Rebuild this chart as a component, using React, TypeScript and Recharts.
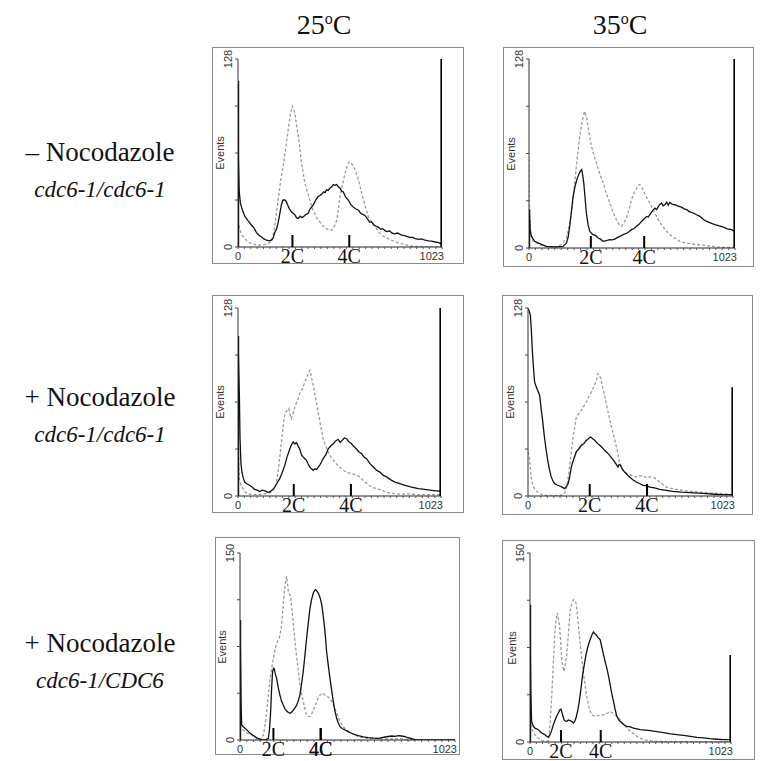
import React from 'react';
import { LineChart, Line, XAxis, YAxis } from 'recharts';

type Pt = [number, number];

const COLUMN_TEMPS = ['25', '35'];
const ROW_TREATMENTS = ['– Nocodazole', '+ Nocodazole', '+ Nocodazole'];
const ROW_STRAINS = ['cdc6-1/cdc6-1', 'cdc6-1/cdc6-1', 'cdc6-1/CDC6'];
const DNA_LABELS = ['2C', '4C'];
const MAX_CHANNEL = 1023;

// y-axis top per panel (events)
const Y_MAX = [128, 128, 128, 128, 150, 150];
// channel of the 2C and 4C marks per panel
const DNA_MARKS = [
  [273, 558],
  [307, 572],
  [281, 569],
  [308, 594],
  [159, 384],
  [158, 360],
];
// height of the off-scale spikes at channel 0 and channel 1023 (0 = none)
const EDGE_SPIKES = [
  [113, 128],
  [26, 128],
  [109, 128],
  [0, 74],
  [96, 0],
  [109, 69],
];

// solid = black trace, dashed = grey trace; [channel, events]
const P1_SOLID: Pt[] = [[0,113],[2,60],[6,38],[12,30],[20,26],[34,21],[50,18],[67,15],[80,13],[92,10],[105,8],[117,7],[130,5.5],[143,4.6],[159,4.2],[170,5],[176,6],[185,10],[193,12],[202,17],[210,23],[218,29],[226,32],[235,32],[242,31],[248,29],[258,26],[268,24],[276,23],[285,22],[293,20],[302,19.5],[312,21],[320,20],[327,20.5],[338,22],[352,23],[362,26],[377,28.5],[390,32],[400,34],[411,35],[420,36],[430,37.5],[436,37],[445,39],[452,38.5],[461,40],[470,41],[478,42.5],[486,42],[495,42.5],[503,41],[512,40],[520,38],[528,37.5],[540,34],[553,32],[565,29],[579,27],[590,26],[604,25],[615,23],[628,22],[637,21.5],[650,19],[660,17],[671,17],[682,15],[693,14],[704,13.5],[715,12],[726,12.5],[738,11],[750,10.5],[760,11],[771,9.6],[785,9],[800,9.5],[822,8],[840,7.5],[860,6.5],[875,6.5],[889,5.7],[905,5.2],[920,5.5],[939,4.6],[955,4.2],[970,4],[990,3.4],[1006,3],[1016,2.3],[1020,3]];
const P1_DASHED: Pt[] = [[0,18],[8,12],[20,8],[34,5.7],[50,3.5],[67,2.3],[101,1.1],[134,1.8],[160,3],[168,4.6],[176,8],[184,13.7],[192,22],[201,32],[213,44],[226,55],[240,68],[252,80],[262,90],[272,96],[279,94],[285,91],[295,82],[305,73],[318,58],[332,46],[342,40],[352,36],[364,30],[377,25],[394,20],[411,17],[428,14],[444,12.5],[458,11.5],[470,11.4],[482,14],[495,18],[503,25],[511,34],[522,41],[533,48],[545,54],[557,58],[568,57],[579,55],[591,51],[604,46],[616,39],[629,32],[642,26],[654,20.5],[671,17],[688,13.7],[704,10.5],[721,8],[745,6],[771,4.6],[796,3.2],[822,2.3],[850,1.2],[872,0.5],[950,0.2],[1023,0]];

const P2_SOLID: Pt[] = [[0,26],[3,20],[6,12],[12,8],[28,4.5],[53,3],[86,1.1],[136,0.7],[169,1.1],[186,3.4],[194,7],[202,14.7],[210,24],[219,35],[229,42],[239,47],[248,50],[255,52],[262,53],[267,49],[272,44],[279,33],[285,23.7],[293,16],[302,11.3],[310,10],[318,9],[330,8.5],[343,6.8],[355,6],[368,4.5],[384,5],[401,5.6],[413,5.5],[426,6],[438,7],[451,7.9],[468,9],[484,10],[496,11],[509,12.4],[520,13],[534,14.7],[546,16],[559,18],[570,19.5],[584,21.4],[592,21],[600,22.6],[612,25],[625,27],[634,26],[642,28],[650,29.5],[658,30.5],[666,28.5],[675,29.3],[684,31],[692,29],[700,31],[712,29.5],[725,29.3],[737,28.5],[749,28],[760,27.5],[770,26.5],[783,26],[798,24.5],[816,23.7],[832,22.5],[849,21.4],[865,19.5],[882,18],[900,17],[923,15.8],[945,15],[965,14.2],[985,13],[1006,12.4],[1020,11.3]];
const P2_DASHED: Pt[] = [[0,60],[2,30],[8,10],[20,4.5],[53,2.3],[86,0.7],[136,0.7],[161,2.3],[186,6.8],[198,14],[211,23.7],[222,37],[232,51],[242,64],[252,75.6],[262,84],[269,89],[277,92.5],[283,90],[288,87],[298,78],[310,69],[322,63],[335,57.5],[352,50],[368,44],[384,37],[401,30.5],[418,24],[434,19.2],[447,16],[459,14.7],[471,17],[484,20.3],[496,26],[509,32.7],[521,37],[534,40.6],[542,42.5],[550,42.9],[560,41],[570,38.4],[585,34],[600,30.5],[612,27],[625,23.7],[641,19.5],[658,15.8],[679,12],[700,9],[725,6.5],[749,4.5],[775,3.5],[799,2.9],[840,2.2],[882,1.6],[930,0.8],[965,0.4],[1023,0.4]];

const P3_SOLID: Pt[] = [[0,109],[3,90],[7,68],[10,40],[15,22],[20,16],[27,12],[34,9.5],[47,8],[59,7.3],[72,6],[84,4.5],[97,4],[109,3],[122,4],[135,3.5],[148,2.6],[160,2.7],[172,4],[185,6],[198,9],[210,11.8],[223,16],[236,21],[248,27],[261,32],[270,35],[278,36.8],[286,35.5],[295,36.3],[303,34],[311,32],[320,28],[328,26.6],[336,25.5],[345,24.3],[353,22],[362,19.7],[370,18.5],[379,17.5],[387,18.5],[396,18],[404,19.5],[412,21],[420,23],[429,25.4],[442,28],[454,32],[467,34],[480,35.6],[492,37.5],[505,38.6],[515,36.5],[525,37.9],[536,39.5],[547,39],[558,37],[572,35.6],[585,33.5],[597,32],[610,30],[623,28.8],[635,26.5],[648,25.4],[665,22],[682,19.7],[698,17.5],[715,16.3],[732,14],[749,13],[770,11],[791,9.5],[815,8.5],[842,7.3],[875,6],[909,5],[940,4.5],[976,3.9],[1000,3.5],[1016,3.2],[1020,4]];
const P3_DASHED: Pt[] = [[0,50],[3,25],[7,11.8],[15,7],[25,5],[37,2.5],[50,1.6],[75,0.9],[101,0.9],[126,1.5],[151,1.6],[168,2.8],[185,5],[194,10],[202,16.3],[210,26],[219,36.8],[227,47],[236,56],[246,58],[256,59.5],[262,56],[269,52.7],[279,57],[289,61.7],[300,65],[311,69.7],[324,73],[337,77.6],[350,82],[362,85.6],[370,81],[379,75.4],[391,67],[404,57.2],[416,48],[429,39],[442,34],[454,30],[471,26],[488,23],[509,20],[530,17.5],[551,16],[572,15.2],[589,14.5],[606,13.6],[623,11.5],[640,9.5],[656,7.8],[673,6.1],[698,5],[724,3.9],[749,2.5],[774,1.8],[816,1.3],[858,1.4],[900,1],[942,0.9],[1023,0.9]];

const P4_SOLID: Pt[] = [[0,127.6],[6,126],[12,123],[17,112],[22,98],[27,88],[33,77.6],[39,75],[45,73],[51,71],[58,68.6],[65,60],[72,52.7],[78,45],[83,39],[91,31],[100,23],[108,17.5],[116,13],[125,10],[133,8.4],[145,7.5],[158,6.8],[170,6],[183,5],[192,6.5],[200,8.4],[208,13],[216,19.7],[228,25],[241,30],[253,32],[266,34.5],[278,35.5],[291,37.9],[298,38.5],[305,39.5],[313,40.2],[323,39],[333,37.9],[345,36],[358,34.5],[370,33],[382,31.1],[395,29.5],[407,27.7],[417,26],[427,24.3],[438,22],[449,19.7],[455,21.5],[461,20.9],[472,18],[482,16.3],[495,14.5],[507,13],[523,11],[540,9.5],[557,8.5],[574,7.3],[590,7],[607,6.1],[632,5.5],[657,4.5],[690,3.8],[723,3.2],[765,2.6],[807,2.3],[850,1.9],[890,1.6],[930,1.2],[973,0.9],[1013,0.9],[1020,1]];
const P4_DASHED: Pt[] = [[0,30],[8,25],[12,18],[17,11.8],[25,7],[33,5],[45,3],[58,1.6],[83,0.5],[108,0.2],[141,0.3],[175,0.7],[187,3],[195,7.3],[205,17],[216,30],[228,43],[241,53.8],[253,56],[266,58.3],[278,61],[291,64],[303,67.5],[316,70.8],[327,74],[338,77.6],[343,80],[349,83.3],[356,82],[363,80],[372,74],[382,68.6],[395,60],[407,52.7],[420,45],[432,39],[445,31],[457,23],[470,19],[482,16.3],[495,15],[507,14.5],[523,13.5],[540,13],[557,13.8],[574,13.6],[590,12.5],[607,13],[620,12.8],[632,12.3],[645,11],[657,9.5],[673,7.8],[690,6.1],[715,5.2],[740,4.5],[773,3.8],[807,3.2],[850,2.7],[890,2.3],[930,2],[973,1.6],[1014,0.9],[1023,0.5]];

const P5_SOLID: Pt[] = [[0,96],[3,60],[5,30],[8,12],[16,10.5],[24,9.4],[36,7.5],[48,5.4],[60,4],[71,2.7],[87,1],[103,0.3],[119,0],[135,1.3],[140,8],[146,22.8],[150,40],[155,55],[160,57.5],[163,57],[168,53],[174,49.6],[182,42],[190,36],[198,31],[206,28],[214,25],[222,23.3],[230,22],[238,21.4],[246,22.5],[254,24],[262,26],[270,28],[278,32],[285,36],[293,45],[301,55],[309,68],[317,81.7],[325,94],[333,105.8],[341,113],[349,117.9],[355,120],[360,120.6],[368,119],[376,116.5],[383,113],[389,108.5],[395,101],[401,92.4],[407,82],[412,71],[420,60],[428,49.6],[436,40],[444,30.8],[452,23],[460,17.4],[468,13.5],[476,10.7],[488,9],[500,8],[516,6.5],[531,5.4],[547,4.3],[563,3.5],[587,2.5],[611,1.9],[635,1.5],[658,1.3],[675,1.9],[690,2.4],[706,2.8],[722,3.2],[738,2.9],[753,3.5],[769,3.2],[785,2.7],[800,1.8],[809,1.5],[833,0.3],[880,0],[1023,0]];
const P5_DASHED: Pt[] = [[0,12],[5,9.4],[15,8],[24,6.7],[40,5],[56,4],[79,1.3],[95,0],[111,4],[119,12],[127,22.8],[135,36],[143,49.6],[151,58],[159,65.6],[166,72],[174,77.7],[181,80],[187,81.7],[192,86],[198,92.4],[204,105],[209,116.5],[215,125],[222,131.3],[226,126],[230,119],[236,117],[241,115.2],[248,104],[254,92.4],[262,79],[270,65.6],[278,55],[285,44.2],[293,37],[301,30.8],[309,25],[317,20],[325,18.9],[333,18.8],[341,21],[349,24],[357,27],[365,30.8],[373,34],[381,36.2],[389,37],[397,37.5],[404,36],[412,34.8],[420,34.5],[428,33.5],[436,31],[444,28],[452,25],[460,21.4],[468,18],[476,14.7],[484,12.5],[492,10.7],[500,9],[508,8],[520,6.5],[531,5.4],[547,4],[563,2.7],[590,1.8],[611,1.3],[635,1.5],[658,1.3],[690,0.8],[722,0.8],[760,1.2],[785,0.5],[833,0],[1023,0]];

const P6_SOLID: Pt[] = [[0,109],[2,70],[4,40],[8,16.4],[16,13],[25,11],[34,10.5],[42,9.8],[50,8.5],[59,7.1],[68,6.5],[76,5.8],[85,4.5],[93,3.7],[102,5.8],[110,9],[119,13.8],[127,17],[136,20.4],[144,23],[153,25.7],[158,26],[161,24.3],[167,21],[173,17.7],[180,16.5],[187,16.4],[195,17.5],[204,17],[212,16.5],[221,15.1],[228,16.5],[234,19],[243,25],[251,32.3],[259,42],[268,53.4],[276,61],[285,69.3],[295,76],[306,81.2],[314,84.5],[323,87.3],[330,86],[336,85.2],[346,83],[357,81.2],[366,75],[374,69.3],[382,64],[391,58.7],[400,52],[408,45.5],[416,38.5],[425,32.3],[433,26],[442,20.4],[454,17],[467,15.1],[480,13.5],[493,12.4],[510,12],[527,11.1],[544,10.5],[561,9.8],[586,9.4],[612,9],[637,8.5],[663,7.9],[688,7.2],[714,6.4],[748,5.8],[782,5.3],[816,4.5],[850,3.7],[883,3.2],[917,2.6],[951,2.2],[985,1.9],[1020,1.9]];
const P6_DASHED: Pt[] = [[0,30],[3,13.8],[14,9],[25,5.8],[38,3.5],[51,1.9],[68,0.8],[85,0.5],[95,1],[102,13.8],[109,32],[116,53.4],[121,70],[127,87.8],[133,97],[139,102.4],[145,97],[150,93],[156,80],[161,66.7],[167,60],[173,56],[180,62],[187,69.3],[195,85],[204,103.7],[212,109],[221,113],[228,112],[234,110.3],[240,103],[246,93],[254,80],[263,66.7],[271,56],[280,45.5],[288,37],[297,29.6],[305,25],[314,21.7],[323,20.8],[331,20.4],[344,21],[357,21.2],[370,21.5],[382,22.2],[395,23],[408,24.3],[420,23],[433,21.7],[446,19.5],[459,17.7],[471,15],[484,12.4],[497,10.5],[510,8.5],[527,6.5],[544,4.5],[561,3],[578,1.9],[612,1],[646,0.5],[700,0.3],[800,0.3],[1023,0.3]];

const SOLID = [P1_SOLID, P2_SOLID, P3_SOLID, P4_SOLID, P5_SOLID, P6_SOLID];
const DASHED = [P1_DASHED, P2_DASHED, P3_DASHED, P4_DASHED, P5_DASHED, P6_DASHED];

// layout (page px): outer box and plotting area of each histogram
const FRAMES = [
  { x: 212, y: 47, w: 252, h: 217 },
  { x: 503, y: 47, w: 251, h: 220 },
  { x: 212, y: 295, w: 252, h: 218 },
  { x: 502, y: 295, w: 251, h: 220 },
  { x: 215, y: 537, w: 245, h: 218 },
  { x: 502, y: 540, w: 253, h: 220 },
];
const PLOTS = [
  { x: 238, y: 59, w: 204, h: 188 },
  { x: 529, y: 59, w: 206, h: 189 },
  { x: 238, y: 308, w: 203, h: 188 },
  { x: 528, y: 308, w: 205, h: 188 },
  { x: 240, y: 553, w: 215, h: 187 },
  { x: 530, y: 553, w: 201, h: 189 },
];

const SANS = '"Liberation Sans", Arial, sans-serif';
const SERIF = '"Liberation Serif", "Times New Roman", serif';
const EXTRA = 10; // room below the frame so the 2C/4C labels are not clipped

const toRows = (pts: Pt[]) => pts.map(([ch, n]) => ({ ch, n }));

const XTick = (props: any) => {
  const { x, y, payload, marks } = props;
  const v = payload.value;
  const mi = marks.indexOf(v);
  if (mi >= 0) {
    return (
      <g>
        <line x1={x} x2={x} y1={y - 12} y2={y} stroke="#000" strokeWidth={2} />
        <text x={x} y={y + 16} textAnchor="middle" fontFamily={SERIF} fontSize={20} fill="#111">
          {DNA_LABELS[mi]}
        </text>
      </g>
    );
  }
  if (v === 0 || v === MAX_CHANNEL) {
    return (
      <g>
        <line x1={x} x2={x} y1={y} y2={y + 2} stroke="#444" />
        <text x={v === 0 ? x : x + 2} y={y + 13} textAnchor={v === 0 ? 'middle' : 'end'} fontFamily={SANS} fontSize={11} fill="#333">
          {v}
        </text>
      </g>
    );
  }
  return <line x1={x} x2={x} y1={y} y2={y + 2} stroke="#555" />;
};

const YTick = (props: any) => {
  const { x, y, payload, yMax } = props;
  const v = payload.value;
  if (v !== 0 && v !== yMax) return <g />;
  return (
    <text x={x - 7} y={y} transform={`rotate(-90, ${x - 7}, ${y})`} textAnchor="middle" dominantBaseline="central" fontFamily={SANS} fontSize={11} fill="#333">
      {v}
    </text>
  );
};

const Histogram = ({ i }: { i: number }) => {
  const f = FRAMES[i];
  const p = PLOTS[i];
  const yMax = Y_MAX[i];
  const marks = DNA_MARKS[i];
  const [leftSpike, rightSpike] = EDGE_SPIKES[i];
  const minor: number[] = [];
  for (let c = 32; c < MAX_CHANNEL; c += 32) minor.push(c);
  const xTicks = [0, ...minor, MAX_CHANNEL, ...marks].sort((a, b) => a - b);
  const yTicks = [0, yMax / 4, yMax / 2, (yMax * 3) / 4, yMax];
  const yAxisW = p.x - f.x;
  const xAxisH = f.y + f.h - (p.y + p.h);
  return (
    <>
      <div style={{ position: 'absolute', left: f.x, top: f.y, width: f.w, height: f.h, border: '1px solid #8a8a8a', boxSizing: 'border-box' }} />
      <div style={{ position: 'absolute', left: f.x, top: f.y }}>
        <LineChart
          width={f.w}
          height={f.h + EXTRA}
          margin={{ top: p.y - f.y, right: f.x + f.w - (p.x + p.w), bottom: EXTRA, left: 0 }}
        >
          <XAxis
            dataKey="ch"
            type="number"
            domain={[0, MAX_CHANNEL]}
            ticks={xTicks}
            interval={0}
            height={xAxisH}
            tickSize={0}
            tickMargin={0}
            tickLine={false}
            axisLine={{ stroke: '#222' }}
            tick={(t: any) => <XTick {...t} marks={marks} />}
            allowDataOverflow
          />
          <YAxis
            type="number"
            domain={[0, yMax]}
            ticks={yTicks}
            interval={0}
            width={yAxisW}
            tickSize={3}
            tickMargin={0}
            tickLine={{ stroke: '#444' }}
            axisLine={{ stroke: '#333' }}
            tick={(t: any) => <YTick {...t} yMax={yMax} />}
            allowDataOverflow
          />
          <Line data={toRows(DASHED[i])} dataKey="n" type="linear" stroke="#9a9a9a" strokeWidth={1.3} strokeDasharray="3 2" dot={false} isAnimationActive={false} />
          <Line data={toRows(SOLID[i])} dataKey="n" type="linear" stroke="#111" strokeWidth={1.3} dot={false} isAnimationActive={false} />
          {leftSpike > 0 && (
            <Line data={toRows([[0, 0], [0, leftSpike]])} dataKey="n" type="linear" stroke="#000" strokeWidth={2.4} dot={false} isAnimationActive={false} />
          )}
          {rightSpike > 0 && (
            <Line data={toRows([[1021, 0], [1021, rightSpike]])} dataKey="n" type="linear" stroke="#000" strokeWidth={2.4} dot={false} isAnimationActive={false} />
          )}
        </LineChart>
      </div>
      <div
        style={{
          position: 'absolute',
          left: p.x - 18,
          top: p.y + p.h / 2,
          transform: 'translate(-50%, -50%) rotate(-90deg)',
          fontFamily: SANS,
          fontSize: 11,
          color: '#333',
          whiteSpace: 'nowrap',
        }}
      >
        Events
      </div>
    </>
  );
};

const App = () => {
  const rowY = [152, 397, 643];
  const colX = [324, 620];
  return (
    <div style={{ position: 'absolute', left: 0, top: 0, width: 760, height: 761, background: '#fff', overflow: 'hidden' }}>
      {COLUMN_TEMPS.map((t, c) => (
        <div
          key={t}
          style={{ position: 'absolute', left: colX[c] - 60, top: 10, width: 120, textAlign: 'center', fontFamily: SERIF, fontSize: 28, lineHeight: '30px', color: '#111' }}
        >
          {t}
          <span style={{ fontSize: 16, position: 'relative', top: -10 }}>o</span>C
        </div>
      ))}
      {ROW_TREATMENTS.map((t, r) => (
        <React.Fragment key={r}>
          <div style={{ position: 'absolute', left: 0, top: rowY[r] - 15, width: 200, textAlign: 'center', fontFamily: SERIF, fontSize: 27, lineHeight: '30px', color: '#111', whiteSpace: 'nowrap' }}>
            {t}
          </div>
          <div style={{ position: 'absolute', left: 0, top: rowY[r] + 25, width: 200, textAlign: 'center', fontFamily: SERIF, fontStyle: 'italic', fontSize: 23, lineHeight: '26px', color: '#111', whiteSpace: 'nowrap' }}>
            {ROW_STRAINS[r]}
          </div>
        </React.Fragment>
      ))}
      {FRAMES.map((_, i) => (
        <Histogram key={i} i={i} />
      ))}
    </div>
  );
};

export default App;
